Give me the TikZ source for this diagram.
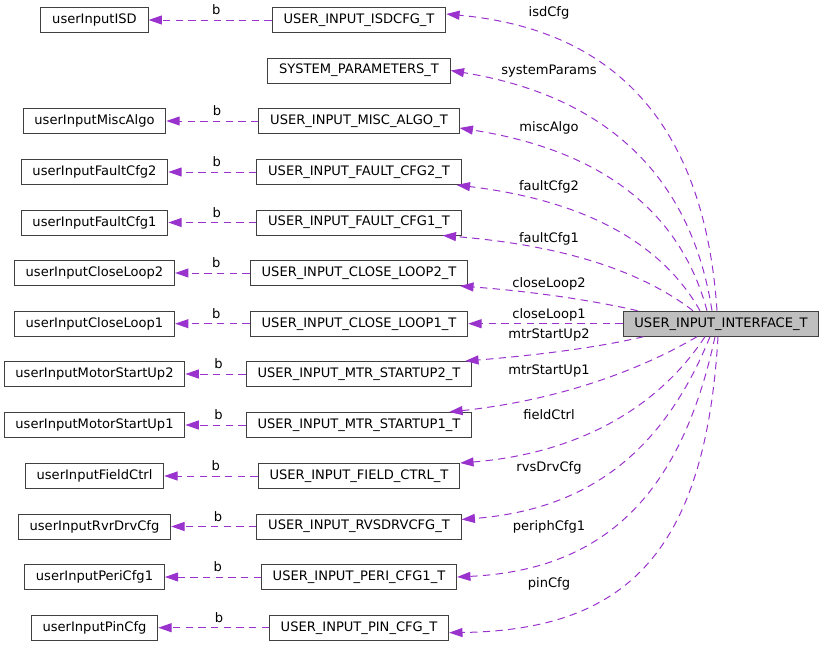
\documentclass[tikz,border=0pt]{standalone}
\usepackage{fontspec}
\setmainfont{DejaVu Sans}
\usepackage{xcolor}
\definecolor{dxOrchid}{HTML}{9A32CD}
\definecolor{dxBorder}{HTML}{404040}
\definecolor{dxGray}{HTML}{BFBFBF}
\usepackage{tikz}
\usetikzlibrary{positioning,arrows.meta,calc}

\begin{document}
\begin{tikzpicture}[x=0.75pt,y=-0.75pt,
      every node/.style={font=\fontsize{9.8}{11}\selectfont,text=black},
      box/.style={rectangle,draw=dxBorder,fill=white,line width=0.75pt,
                  minimum height=18.75pt,inner xsep=8.5pt,inner ysep=0pt},
      mainbox/.style={box,fill=dxGray},
      rel/.style={dxOrchid,line width=0.75pt,dash pattern=on 5.5pt off 4pt,
                  -{Triangle[length=10pt,width=6.75pt]}},
      lbl/.style={inner sep=1pt},
      blbl/.style={lbl,above=2.5pt,pos=0.45},
    ]
    \useasboundingbox (0,0) rectangle (825,647);

    % Struct types (middle column)
    \node[box] (isdT)  at (359,20)    {USER\_INPUT\_ISDCFG\_T};
    \node[box] (sysT)  at (359,70.5)  {SYSTEM\_PARAMETERS\_T};
    \node[box] (miscT) at (359,121)   {USER\_INPUT\_MISC\_ALGO\_T};
    \node[box] (flt2T) at (359,172)   {USER\_INPUT\_FAULT\_CFG2\_T};
    \node[box] (flt1T) at (359,222.5) {USER\_INPUT\_FAULT\_CFG1\_T};
    \node[box] (cl2T)  at (359,273)   {USER\_INPUT\_CLOSE\_LOOP2\_T};
    \node[box] (cl1T)  at (359,323.7) {USER\_INPUT\_CLOSE\_LOOP1\_T};
    \node[box] (mtr2T) at (359,374)   {USER\_INPUT\_MTR\_STARTUP2\_T};
    \node[box] (mtr1T) at (359,425)   {USER\_INPUT\_MTR\_STARTUP1\_T};
    \node[box] (fldT)  at (359,476)   {USER\_INPUT\_FIELD\_CTRL\_T};
    \node[box] (rvsT)  at (359,526.5) {USER\_INPUT\_RVSDRVCFG\_T};
    \node[box] (periT) at (359,577)   {USER\_INPUT\_PERI\_CFG1\_T};
    \node[box] (pinT)  at (359,627.7) {USER\_INPUT\_PIN\_CFG\_T};

    % Union members (left column)
    \node[box] (isdU)  at (94.5,20)    {userInputISD};
    \node[box] (miscU) at (94.5,121)   {userInputMiscAlgo};
    \node[box] (flt2U) at (94.5,172)   {userInputFaultCfg2};
    \node[box] (flt1U) at (94.5,222.5) {userInputFaultCfg1};
    \node[box] (cl2U)  at (94.5,273)   {userInputCloseLoop2};
    \node[box] (cl1U)  at (94.5,323.7) {userInputCloseLoop1};
    \node[box] (mtr2U) at (94.5,374)   {userInputMotorStartUp2};
    \node[box] (mtr1U) at (94.5,425)   {userInputMotorStartUp1};
    \node[box] (fldU)  at (94.5,476)   {userInputFieldCtrl};
    \node[box] (rvsU)  at (94.5,526.5) {userInputRvrDrvCfg};
    \node[box] (periU) at (94.5,577)   {userInputPeriCfg1};
    \node[box] (pinU)  at (94.5,627.7) {userInputPinCfg};

    % Interface struct
    \node[mainbox] (main) at (721,323.7) {USER\_INPUT\_INTERFACE\_T};

    % Member links "b"
    \draw[rel] (isdT)  -- node[blbl]{b} (isdU);
    \draw[rel] (miscT) -- node[blbl]{b} (miscU);
    \draw[rel] (flt2T) -- node[blbl]{b} (flt2U);
    \draw[rel] (flt1T) -- node[blbl]{b} (flt1U);
    \draw[rel] (cl2T)  -- node[blbl]{b} (cl2U);
    \draw[rel] (cl1T)  -- node[blbl]{b} (cl1U);
    \draw[rel] (mtr2T) -- node[blbl]{b} (mtr2U);
    \draw[rel] (mtr1T) -- node[blbl]{b} (mtr1U);
    \draw[rel] (fldT)  -- node[blbl]{b} (fldU);
    \draw[rel] (rvsT)  -- node[blbl]{b} (rvsU);
    \draw[rel] (periT) -- node[blbl]{b} (periU);
    \draw[rel] (pinT)  -- node[blbl]{b} (pinU);

    % Interface fields
    \draw[rel] ($(main.north)+(-4,0)$) .. controls (705,130) and (620,30) .. ($(isdT.east)+(0,-6)$)
      node[lbl] at (549,13) {isdCfg};
    \draw[rel] ($(main.north)+(-9,0)$) .. controls (690,170) and (600,95) .. (sysT.east)
      node[lbl] at (549,71) {systemParams};
    \draw[rel] ($(main.north)+(-14,0)$) .. controls (680,210) and (600,150) .. ($(miscT.east)+(0,7)$)
      node[lbl] at (549,128) {miscAlgo};
    \draw[rel] ($(main.north)+(-21,0)$) .. controls (660,240) and (580,200) .. ($(flt2T.south east)+(-5,0)$)
      node[lbl] at (549,187) {faultCfg2};
    \draw[rel] ($(main.north)+(-28,0)$) .. controls (640,270) and (560,245) .. ($(flt1T.south east)+(-19,0)$)
      node[lbl] at (549,239) {faultCfg1};
    \draw[rel] ($(main.north west)+(15,0)$) .. controls (600,302) and (540,292) .. ($(cl2T.south east)+(-8,0)$)
      node[lbl] at (549,284) {closeLoop2};
    \draw[rel] (main) -- (cl1T)
      node[lbl] at (549,315) {closeLoop1};
    \draw[rel] ($(main.south west)+(21,0)$) .. controls (600,347) and (540,355) .. ($(mtr2T.north east)+(-7,0)$)
      node[lbl] at (549,335) {mtrStartUp2};
    \draw[rel] ($(main.south)+(-24,0)$) .. controls (640,370) and (560,400) .. ($(mtr1T.north east)+(-23,0)$)
      node[lbl] at (549,371) {mtrStartUp1};
    \draw[rel] ($(main.south)+(-16,0)$) .. controls (650,420) and (560,455) .. (fldT.north east)
      node[lbl] at (549,415) {fieldCtrl};
    \draw[rel] ($(main.south)+(-11,0)$) .. controls (660,460) and (580,510) .. ($(rvsT.east)+(0,-7)$)
      node[lbl] at (549,468) {rvsDrvCfg};
    \draw[rel] ($(main.south)+(-6,0)$) .. controls (680,500) and (600,570) .. (periT.east)
      node[lbl] at (549,527) {periphCfg1};
    \draw[rel] ($(main.south)+(-3,0)$) .. controls (705,560) and (620,630) .. ($(pinT.east)+(0,5)$)
      node[lbl] at (549,584) {pinCfg};

  \end{tikzpicture}
\end{document}
